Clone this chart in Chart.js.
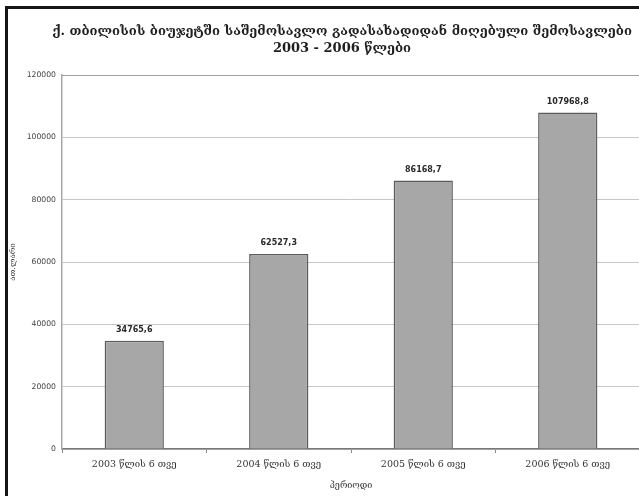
<!DOCTYPE html>
<html>
<head>
<meta charset="utf-8">
<script src="https://cdn.jsdelivr.net/npm/chart.js@4.4.1/dist/chart.umd.min.js"></script>
<style>
  html, body { margin: 0; padding: 0; background: #ffffff; overflow: hidden; }
  #wrap { position: relative; width: 639px; height: 496px; overflow: hidden; }
  #c { position: absolute; left: 0; top: 0; }
  #frame { position: absolute; left: 5px; top: 6px; width: 640px; height: 500px;
           border-left: 3px solid #161616; border-top: 3px solid #161616; pointer-events: none; }
</style>
</head>
<body>
<div id="wrap">
  <canvas id="c" width="640" height="496" style="width:640px;height:496px"></canvas>
  <div id="frame"></div>
</div>
<script>
const titleLines = [
  'ქ. თბილისის ბიუჯეტში საშემოსავლო გადასახადიდან მიღებული შემოსავლები',
  '2003 - 2006 წლები'
];
const categories = ['2003 წლის 6 თვე', '2004 წლის 6 თვე', '2005 წლის 6 თვე', '2006 წლის 6 თვე'];
const values = [34765.6, 62527.3, 86168.7, 107968.8];
const yTicks = [0, 20000, 40000, 60000, 80000, 100000, 120000];
const xAxisTitle = 'პერიოდი';
const yAxisTitle = 'ათ.ლარი';

const fmt = v => v.toFixed(1).replace('.', ',');

const valueLabels = {
  id: 'valueLabels',
  afterDatasetsDraw(chart) {
    const ctx = chart.ctx;
    const meta = chart.getDatasetMeta(0);
    ctx.save();
    ctx.font = 'bold 8px "DejaVu Sans"';
    ctx.fillStyle = '#2a2a2a';
    ctx.textAlign = 'center';
    ctx.textBaseline = 'middle';
    meta.data.forEach((bar, i) => {
      ctx.fillText(fmt(values[i]), bar.x, bar.y - 11);
    });
    ctx.restore();
  }
};

const frameAndTitle = {
  id: 'frameAndTitle',
  afterDraw(chart) {
    const ctx = chart.ctx, a = chart.chartArea;
    ctx.save();
    ctx.strokeStyle = '#a0a0a0';
    ctx.lineWidth = 1;
    ctx.beginPath();
    ctx.moveTo(a.left, a.top + 0.5);
    ctx.lineTo(a.right - 0.5, a.top + 0.5);
    ctx.lineTo(a.right - 0.5, a.bottom);
    ctx.stroke();
    ctx.font = 'bold 13px "DejaVu Serif"';
    ctx.fillStyle = '#1e1e1e';
    ctx.textAlign = 'center';
    ctx.textBaseline = 'middle';
    titleLines.forEach((t, i) => ctx.fillText(t, 342, 32 + i * 17));
    ctx.restore();
  }
};

new Chart(document.getElementById('c'), {
  type: 'bar',
  data: {
    labels: categories,
    datasets: [{
      data: values,
      backgroundColor: '#a7a7a7',
      borderColor: '#5c5c5c',
      borderWidth: 1.5,
      barPercentage: 0.41,
      categoryPercentage: 1.0
    }]
  },
  options: {
    responsive: false,
    animation: false,
    devicePixelRatio: 1,
    layout: { padding: { left: 0, right: 0, top: 75, bottom: 0 } },
    plugins: {
      legend: { display: false },
      tooltip: { enabled: false },
      title: { display: false }
    },
    scales: {
      x: {
        grid: { display: true, drawOnChartArea: false, drawTicks: true, tickLength: 4, color: '#8a8a8a', offset: true },
        border: { display: true, color: '#7a7a7a', width: 1.5 },
        ticks: { color: '#333', font: { family: '"DejaVu Serif"', size: 9.5 }, padding: 6, maxRotation: 0, autoSkip: false },
        title: { display: true, text: xAxisTitle, color: '#333', font: { family: '"DejaVu Serif"', size: 9 }, padding: { top: 0, bottom: 5 } },
        afterFit(scale) { scale.height = 47; }
      },
      y: {
        min: 0,
        max: 120000,
        afterBuildTicks(scale) { scale.ticks = yTicks.map(v => ({ value: v })); },
        grid: { color: '#c6c6c6', lineWidth: 1, drawTicks: false },
        border: { display: true, color: '#a8a8a8', width: 1.5 },
        ticks: { color: '#444', font: { family: '"DejaVu Sans"', size: 7.7 }, padding: 6, callback: v => String(v) },
        title: { display: true, text: yAxisTitle, color: '#333', font: { family: '"DejaVu Serif"', size: 8 }, padding: { top: 8, bottom: 0 } },
        afterFit(scale) { scale.width = 62; }
      }
    }
  },
  plugins: [valueLabels, frameAndTitle]
});
</script>
</body>
</html>
